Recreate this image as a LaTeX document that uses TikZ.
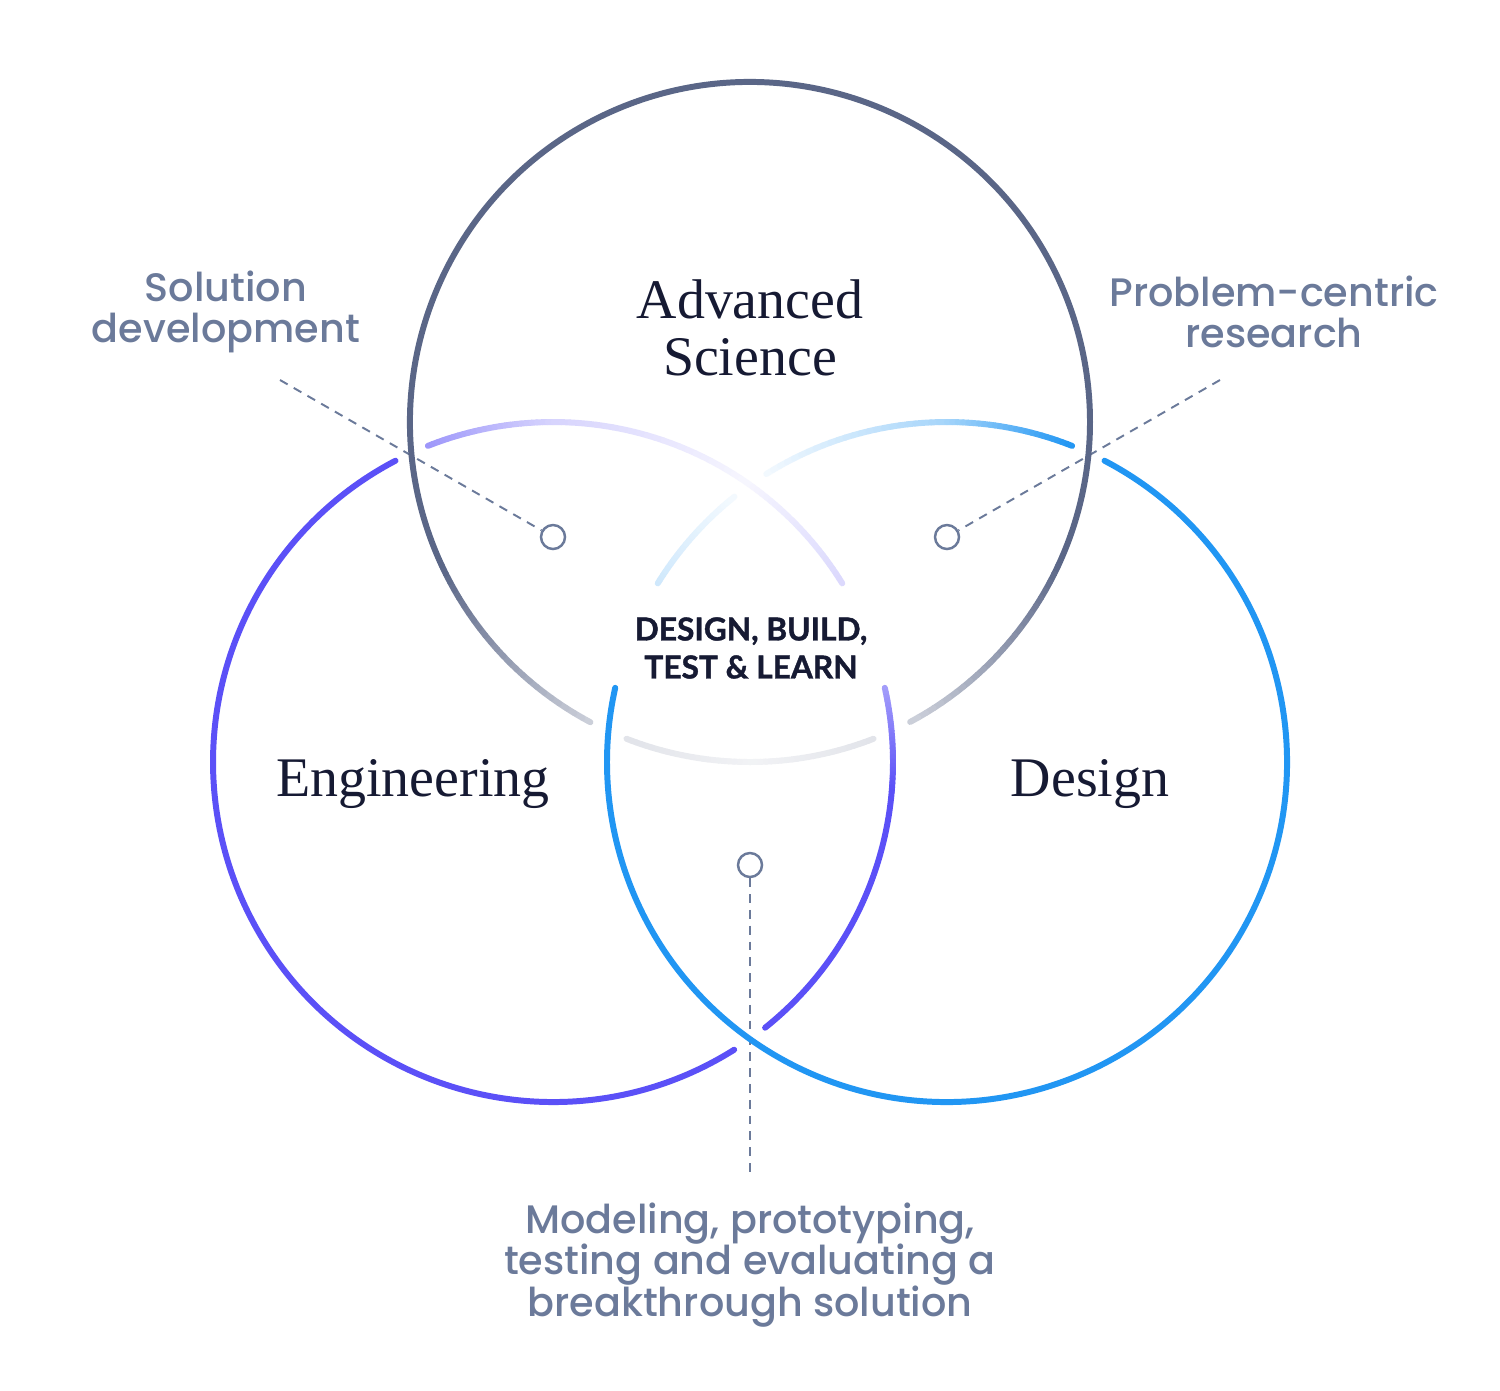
\documentclass[tikz,border=0pt]{standalone}
\usepackage{fontspec}
\setmainfont{Liberation Serif}
\newfontfamily\labelfont{Poppins}[UprightFont=* Medium]
\newfontfamily\capsfont{Lato}[BoldFeatures={FakeBold=1.2}]
\usetikzlibrary{calc,positioning}

\definecolor{sciencecol}{HTML}{5A6687}
\definecolor{engcol}{HTML}{5B50F7}
\definecolor{descol}{HTML}{2196F3}
\definecolor{labelcol}{HTML}{6B7A9A}
\definecolor{titlecol}{HTML}{161A33}

% arc of radius 340 round #1, colour #2 from #5 to #6 percent
\newcommand{\ringarc}[6]{%
  \foreach \k in {1,...,24}{%
    \pgfmathsetmacro{\ta}{#3+(#4-#3)*(\k-1)/24}%
    \pgfmathsetmacro{\tb}{#3+(#4-#3)*\k/24}%
    \pgfmathsetmacro{\pc}{#5+(#6-#5)*(\k-0.5)/24}%
    \draw[ring,#2!\pc!white] ($(#1)+(\ta:340)$) arc[start angle=\ta,end angle=\tb,radius=340];
  }}

\begin{document}
\begin{tikzpicture}[
                x=0.01cm, y=-0.01cm,
                ring/.style={line width=1.7pt,line cap=round},
                title/.style={text=titlecol,font=\fontsize{15.9}{16.2}\selectfont,align=center},
                label/.style={text=labelcol,font=\labelfont\fontsize{11.3}{11.7}\selectfont\setlength{\lineskiplimit}{-20pt},align=center},
                dot/.style={circle,draw=labelcol,fill=white,line width=0.7pt,minimum size=0.24cm,inner sep=0pt},
                leader/.style={draw=labelcol,line width=0.55pt,dash pattern=on 2.5pt off 2pt}
            ]
                \fill[white] (0,0) rectangle (1500,1390);
                \useasboundingbox (0,0) rectangle (1500,1390);
                \coordinate (A) at (750,422);
                \coordinate (L) at (553,762);
                \coordinate (R) at (947,762);

                % leaders and their ends
                \node[dot] (dSol)   at (553,537) {};
                \node[dot] (dProb)  at (947,537) {};
                \node[dot] (dModel) at (750,865) {};
                \coordinate (eSol)   at (280,380);
                \coordinate (eProb)  at (1220,380);
                \coordinate (eModel) at (750,1172);
                \draw[leader] (eSol) -- (dSol);
                \draw[leader] (eProb) -- (dProb);
                \draw[leader] (dModel) -- (eModel);

                % Advanced Science
                \ringarc{A}{sciencecol}{118}{155}{30}{100}
                \draw[ring,sciencecol] ($(A)+(155:340)$) arc[start angle=155,end angle=385,radius=340];
                \ringarc{A}{sciencecol}{385}{421.9}{100}{30}
                \ringarc{A}{sciencecol}{68.7}{90}{18}{8}
                \ringarc{A}{sciencecol}{90}{111.3}{8}{18}

                % Engineering
                \draw[ring,engcol] ($(L)+(57.8:340)$) arc[start angle=57.8,end angle=242.4,radius=340];
                \ringarc{L}{engcol}{248.4}{270}{60}{25}
                \ringarc{L}{engcol}{270}{305}{25}{5}
                \ringarc{L}{engcol}{305}{328.3}{5}{22}
                \ringarc{L}{engcol}{347.4}{365}{55}{100}
                \draw[ring,engcol] ($(L)+(365:340)$) arc[start angle=365,end angle=411.4,radius=340];

                % Design
                \draw[ring,descol] ($(R)+(297.6:340)$) arc[start angle=297.6,end angle=552.6,radius=340];
                \ringarc{R}{descol}{211.7}{231.3}{22}{5}
                \ringarc{R}{descol}{237.9}{270}{5}{40}
                \ringarc{R}{descol}{270}{291.6}{40}{100}

                \node[title] (science) at (750,328) {Advanced\\Science};
                \node[title,anchor=base] (eng) at (413,796) {Engineering};
                \node[title,anchor=base] (des) at (1090,796) {Design};
                \node[text=titlecol,font=\capsfont\bfseries\fontsize{9}{10.8}\selectfont,align=center] (core) at (751,648) {DESIGN, BUILD,\\TEST \& LEARN};

                \node[label] (sol)   at (226,312)  {Solution\\development};
                \node[label] (prob)  at (1274,312) {Problem-centric\\research};
                \node[label] (model) at (750,1265) {Modeling, prototyping,\\testing and evaluating a\\breakthrough solution};
            \end{tikzpicture}
\end{document}
